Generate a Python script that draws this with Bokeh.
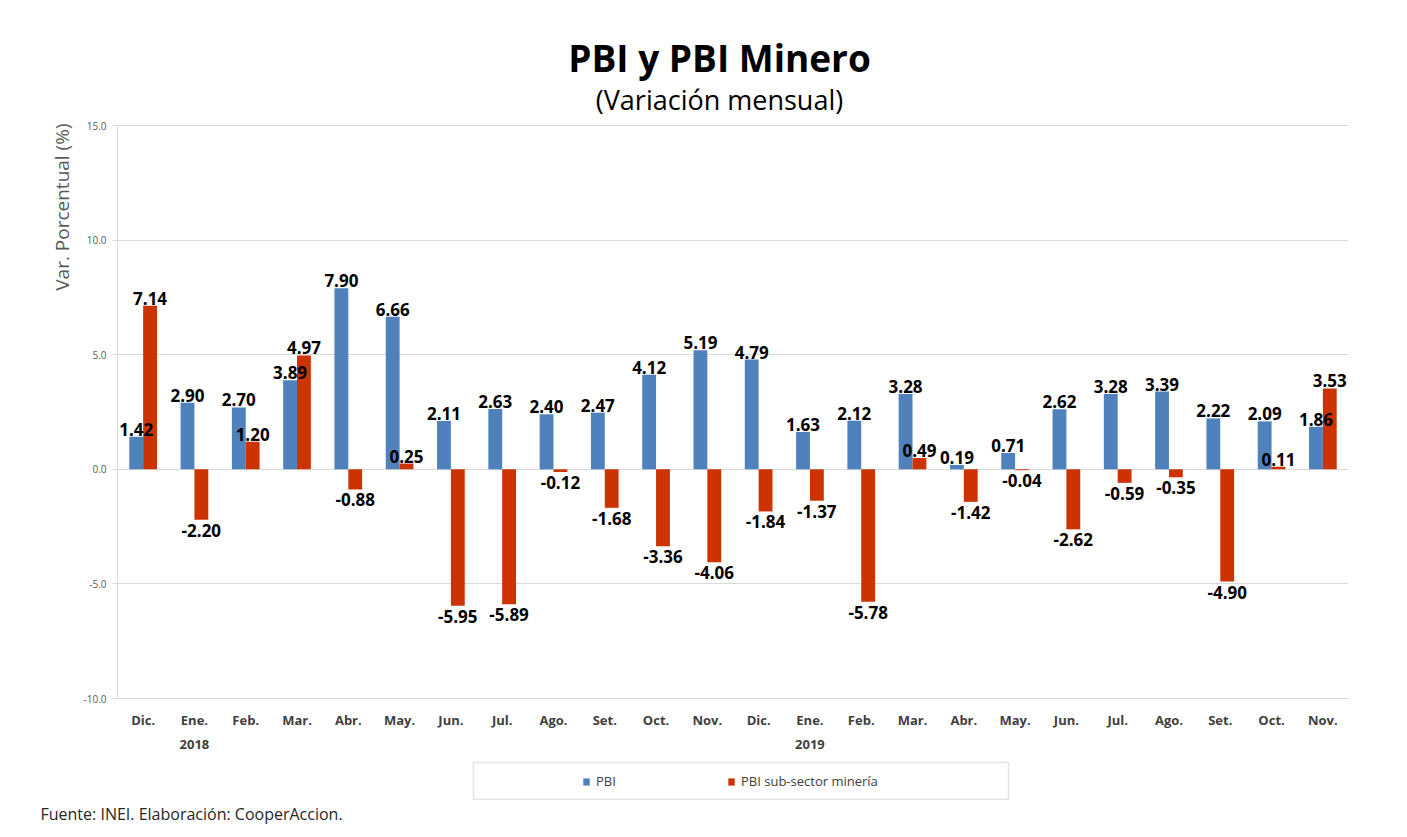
from bokeh.plotting import figure
from bokeh.models import (ColumnDataSource, LabelSet, Label, Range1d, FixedTicker, Title,
                          NumeralTickFormatter, Legend, LegendItem, BoxAnnotation)
from bokeh.core.properties import value
from bokeh.embed import file_html
from bokeh.resources import INLINE

# ---- data ----
months = ["Dic.", "Ene.\n2018", "Feb.", "Mar.", "Abr.", "May.", "Jun.", "Jul.", "Ago.", "Set.",
          "Oct.", "Nov.", "Dic.", "Ene.\n2019", "Feb.", "Mar.", "Abr.", "May.", "Jun.", "Jul.",
          "Ago.", "Set.", "Oct.", "Nov."]
pbi = [1.42, 2.90, 2.70, 3.89, 7.90, 6.66, 2.11, 2.63, 2.40, 2.47, 4.12, 5.19,
       4.79, 1.63, 2.12, 3.28, 0.19, 0.71, 2.62, 3.28, 3.39, 2.22, 2.09, 1.86]
mineria = [7.14, -2.20, 1.20, 4.97, -0.88, 0.25, -5.95, -5.89, -0.12, -1.68, -3.36, -4.06,
           -1.84, -1.37, -5.78, 0.49, -1.42, -0.04, -2.62, -0.59, -0.35, -4.90, 0.11, 3.53]
y_ticks = [-10, -5, 0, 5, 10, 15]
series_names = ["PBI", "PBI sub-sector minería"]
title_text = "PBI y PBI Minero"
subtitle_text = "(Variación mensual)"
ylabel_text = "Var. Porcentual (%)"
source_text = "Fuente: INEI. Elaboración: CooperAccion."

# ---- layout / style constants ----
FONT = "Open Sans"
BLUE = "#4F81BD"
RED = "#CC3300"
n = len(months)
centers = [i + 0.5 for i in range(n)]
off = 0.135
bw = 0.27
Y_LO, Y_HI = y_ticks[0], y_ticks[-1]
# frame is extended above/below the value axis to hold title, legend (px -> data units)
PX_PER_UNIT = 573.0 / (Y_HI - Y_LO)
PX_PER_CAT = 1231.0 / n
Y_TOP = Y_HI + 125 / PX_PER_UNIT
Y_BOT = Y_LO - 102 / PX_PER_UNIT

p = figure(width=1400, height=830, output_backend="svg", toolbar_location=None,
           x_range=Range1d(0, n), y_range=Range1d(Y_BOT, Y_TOP),
           min_border_left=117, min_border_right=52, min_border_top=0, min_border_bottom=30)
p.outline_line_color = None
p.background_fill_color = "white"
p.border_fill_color = "white"

src_b = ColumnDataSource(dict(x=[c - off for c in centers], top=pbi))
src_r = ColumnDataSource(dict(x=[c + off for c in centers], top=mineria))
rb = p.vbar(x="x", top="top", bottom=0, width=bw, source=src_b, fill_color=BLUE, line_color=None)
rr = p.vbar(x="x", top="top", bottom=0, width=bw, source=src_r, fill_color=RED, line_color=None)

# data labels
def add_labels(xs, vals):
    pos = dict(x=[x for x, v in zip(xs, vals) if v >= 0], y=[v for v in vals if v >= 0],
               t=["%.2f" % v for v in vals if v >= 0])
    neg = dict(x=[x for x, v in zip(xs, vals) if v < 0], y=[v for v in vals if v < 0],
               t=["%.2f" % v for v in vals if v < 0])
    for d, base, yo in ((pos, "bottom", 1), (neg, "top", -4)):
        ls = LabelSet(x="x", y="y", text="t", source=ColumnDataSource(d), text_align="center",
                      text_baseline=base, y_offset=yo, text_font=value(FONT),
                      text_font_size="17px", text_font_style="bold", text_color="#000000")
        p.add_layout(ls)

add_labels([c - off for c in centers], pbi)
add_labels([c + off for c in centers], mineria)

# axes
p.xaxis.fixed_location = Y_LO
p.xaxis.ticker = FixedTicker(ticks=centers)
p.xaxis.major_label_overrides = {c: m for c, m in zip(centers, months)}
p.xaxis.major_label_text_font = FONT
p.xaxis.major_label_text_font_size = "13px"
p.xaxis.major_label_text_font_style = "bold"
p.xaxis.major_label_text_color = "#404040"
p.xaxis.major_label_text_line_height = 1.35
p.xaxis.major_tick_line_color = None
p.xaxis.minor_tick_line_color = None
p.xaxis.axis_line_color = "#d9d9d9"
p.xaxis.major_label_standoff = 6

p.yaxis.bounds = (Y_LO, Y_HI)
p.yaxis.ticker = FixedTicker(ticks=y_ticks)
p.yaxis.formatter = NumeralTickFormatter(format="0.0")
p.yaxis.major_label_text_font = FONT
p.yaxis.major_label_text_font_size = "10px"
p.yaxis.major_label_text_color = "#595959"
p.yaxis.axis_line_color = "#d9d9d9"
p.yaxis.major_tick_line_color = "#d9d9d9"
p.yaxis.major_tick_out = 5
p.yaxis.major_tick_in = 0
p.yaxis.minor_tick_line_color = None
p.yaxis.major_label_standoff = 6

p.xgrid.grid_line_color = None
p.ygrid.ticker = FixedTicker(ticks=y_ticks)
p.ygrid.grid_line_color = "#d9d9d9"
p.ygrid.grid_line_width = 1.2

# titles
TX = 602 / PX_PER_CAT   # horizontal centre of the title block
p.add_layout(Label(x=TX, y=Y_HI + 68 / PX_PER_UNIT, text=title_text, text_font=FONT,
                   text_font_size="37px", text_font_style="bold", text_align="center",
                   text_baseline="middle", text_color="#000000"))
p.add_layout(Label(x=TX, y=Y_HI + 26 / PX_PER_UNIT, text=subtitle_text, text_font=FONT,
                   text_font_size="27px", text_align="center", text_baseline="middle",
                   text_color="#000000"))
p.add_layout(Title(text=ylabel_text, text_font=FONT, text_font_size="19px",
                   text_font_style="normal", text_color="#595959", align="right",
                   offset=123, standoff=12), "left")

# legend (box + items)
p.add_layout(BoxAnnotation(left=356 / PX_PER_CAT, right=891 / PX_PER_CAT,
                           top=Y_LO - 64 / PX_PER_UNIT, bottom=Y_LO - 102 / PX_PER_UNIT + 0.05,
                           fill_color=None, line_color="#a6a6a6", line_width=1.5))
legend = Legend(items=[LegendItem(label=series_names[0], renderers=[rb]),
                       LegendItem(label=series_names[1], renderers=[rr])],
                orientation="horizontal", location=(465, 10), padding=0, margin=0,
                spacing=111, glyph_width=8, glyph_height=9, label_standoff=6,
                label_text_font=FONT, label_text_font_size="13px", label_text_color="#404040",
                border_line_color=None, background_fill_alpha=0)
p.add_layout(legend)

p.add_layout(Title(text=source_text, text_font=FONT, text_font_size="16px",
                   text_font_style="normal", text_color="#262626",
                   align="left", offset=-77, standoff=0), "below")

open("out.html", "w").write(file_html(p, INLINE))
